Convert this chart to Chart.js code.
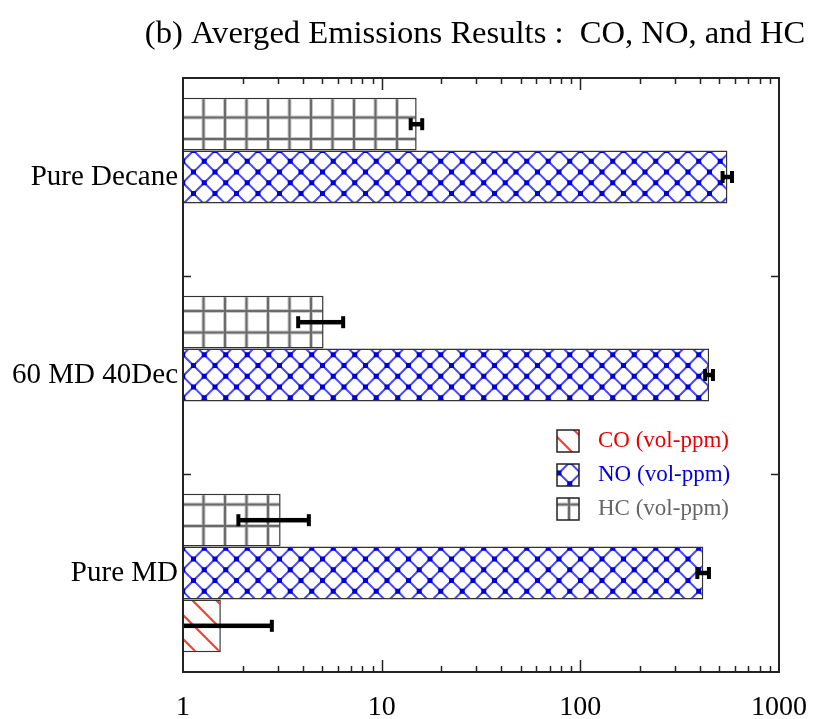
<!DOCTYPE html>
<html>
<head>
<meta charset="utf-8">
<script src="https://cdn.jsdelivr.net/npm/chart.js@4/dist/chart.umd.min.js"></script>
<style>
  html, body { margin: 0; padding: 0; background: #fff; }
  canvas { display: block; }
</style>
</head>
<body>
<canvas id="c" width="821" height="719"></canvas>
<script>
// Averaged emissions per fuel blend (log scale, vol-ppm)
const categories = ['Pure Decane', '60 MD 40Dec', 'Pure MD'];
const hcValues = [15, 5.1, 3.1];
const hcErrors = [1.0, 1.3, 1.2];
const noValues = [550, 445, 416];
const noErrors = [30, 20, 28];
const coValues = [null, null, 1.55];
const coErrors = [null, null, 1.25];
const xTickLabels = [1, 10, 100, 1000];
const seriesNames = ['CO (vol-ppm)', 'NO (vol-ppm)', 'HC (vol-ppm)'];
const titleText = '(b) Averged Emissions Results :  CO, NO, and HC';

const SERIF = "'Liberation Serif', 'Times New Roman', serif";
const canvas = document.getElementById('c');
const ctx = canvas.getContext('2d');

function makeTile(w, h, draw) {
  const t = document.createElement('canvas');
  t.width = w; t.height = h;
  const g = t.getContext('2d');
  g.fillStyle = '#fff';
  g.fillRect(0, 0, w, h);
  draw(g, w, h);
  return ctx.createPattern(t, 'repeat');
}

// gray square grid with soft edges
const hcPattern = makeTile(43, 43, (g) => {
  [0, 21.5].forEach(p => {
    g.fillStyle = '#c8c8c8';
    g.fillRect(p + 8, 0, 4, 43);
    g.fillRect(0, p + 8, 43, 4);
  });
  [0, 21.5].forEach(p => {
    g.fillStyle = '#6a6a6a';
    g.fillRect(p + 9, 0, 2, 43);
    g.fillRect(0, p + 9, 43, 2);
  });
});

// blue diagonal cross-hatch with dots at crossings
const noPattern = makeTile(43, 43, (g) => {
  g.strokeStyle = '#4848ff';
  g.lineWidth = 2;
  g.beginPath();
  for (let k = -4; k <= 4; k++) {
    g.moveTo(0, k * 21.5); g.lineTo(43, 43 + k * 21.5);
    g.moveTo(0, k * 21.5); g.lineTo(43, k * 21.5 - 43);
  }
  g.stroke();
  g.fillStyle = '#0000d0';
  for (let i = -1; i <= 2; i++) {
    for (let j = -1; j <= 2; j++) {
      [[0, 0], [10.75, 10.75]].forEach(([ox, oy]) => {
        g.fillRect(i * 21.5 + ox - 2.5, j * 21.5 + oy - 2.5, 5, 5);
      });
    }
  }
});

// red back-slash stripes
const coPattern = makeTile(24, 24, (g) => {
  g.strokeStyle = '#ff3c3c';
  g.lineWidth = 2.2;
  g.beginPath();
  for (let k = -1; k <= 1; k++) {
    g.moveTo(-2, k * 24 - 2); g.lineTo(26, k * 24 + 26);
  }
  g.stroke();
});

const legendItems = [
  { text: seriesNames[0], color: '#e80000', fill: coPattern },
  { text: seriesNames[1], color: '#0000dd', fill: noPattern },
  { text: seriesNames[2], color: '#666666', fill: hcPattern }
];

const errorBars = {
  id: 'errorBars',
  afterDatasetsDraw(chart) {
    const c = chart.ctx, xs = chart.scales.x, area = chart.chartArea;
    c.save();
    c.fillStyle = '#000';
    chart.data.datasets.forEach((ds, di) => {
      const meta = chart.getDatasetMeta(di);
      meta.data.forEach((bar, i) => {
        const v = ds.data[i], e = ds.errors[i];
        if (v == null || e == null) return;
        const lo = v - e, hi = v + e;
        const y = bar.y;
        const xHi = xs.getPixelForValue(hi);
        const loIn = lo >= xs.min;
        const xLo = loIn ? xs.getPixelForValue(lo) : area.left;
        c.fillRect(xLo, y - 2.25, xHi - xLo, 4.5);
        c.fillRect(xHi - 2, y - 6, 4, 12);
        if (loIn) c.fillRect(xLo - 2, y - 6, 4, 12);
      });
    });
    c.restore();
  }
};

const frameAndLegend = {
  id: 'frameAndLegend',
  afterDraw(chart) {
    const c = chart.ctx, a = chart.chartArea, xs = chart.scales.x, ys = chart.scales.y;
    c.save();
    // frame
    c.strokeStyle = '#222';
    c.lineWidth = 2;
    c.strokeRect(a.left, a.top, a.right - a.left, a.bottom - a.top);
    // log ticks on bottom and top
    c.lineWidth = 1.5;
    c.beginPath();
    for (let k = 0; k < 3; k++) {
      for (let m = 1; m <= 9; m++) {
        const v = m * Math.pow(10, k);
        if (v <= xs.min || v >= xs.max) continue;
        const x = Math.round(xs.getPixelForValue(v)) + 0.5;
        const len = m === 1 ? 12 : 6;
        c.moveTo(x, a.bottom); c.lineTo(x, a.bottom - len);
        c.moveTo(x, a.top); c.lineTo(x, a.top + len);
      }
    }
    // category separators on left and right
    for (let i = 0; i < categories.length - 1; i++) {
      const y = Math.round((ys.getPixelForValue(i) + ys.getPixelForValue(i + 1)) / 2) + 0.5;
      c.moveTo(a.left, y); c.lineTo(a.left + 8, y);
      c.moveTo(a.right, y); c.lineTo(a.right - 8, y);
    }
    c.stroke();

    // title
    c.fillStyle = '#000';
    c.font = '32.6px ' + SERIF;
    c.textAlign = 'center';
    c.textBaseline = 'middle';
    c.fillText(titleText, 475, 34);

    // legend
    c.font = '23px ' + SERIF;
    c.textAlign = 'left';
    legendItems.forEach((it, i) => {
      const by = 430 + i * 34;
      c.fillStyle = it.fill;
      c.fillRect(557, by, 22, 22);
      c.strokeStyle = '#222';
      c.lineWidth = 1.5;
      c.strokeRect(557, by, 22, 22);
      c.fillStyle = it.color;
      c.fillText(it.text, 598, by + 11);
    });
    c.restore();
  }
};

new Chart(ctx, {
  type: 'bar',
  data: {
    labels: categories,
    datasets: [
      { label: seriesNames[2], data: hcValues, errors: hcErrors, backgroundColor: hcPattern, borderColor: '#333', borderWidth: 1.5 },
      { label: seriesNames[1], data: noValues, errors: noErrors, backgroundColor: noPattern, borderColor: '#333', borderWidth: 1.5 },
      { label: seriesNames[0], data: coValues, errors: coErrors, backgroundColor: coPattern, borderColor: '#333', borderWidth: 1.5 }
    ]
  },
  options: {
    indexAxis: 'y',
    responsive: false,
    animation: false,
    categoryPercentage: 0.8,
    barPercentage: 1.0,
    layout: { padding: { top: 78, right: 42, left: 0, bottom: 0 } },
    plugins: { legend: { display: false }, tooltip: { enabled: false }, title: { display: false } },
    scales: {
      x: {
        type: 'logarithmic',
        min: 1,
        max: 1000,
        grid: { display: false, drawTicks: false },
        border: { display: false },
        ticks: {
          autoSkip: false,
          maxRotation: 0,
          padding: 19,
          color: '#000',
          font: { family: SERIF, size: 28 },
          callback: (v) => {
            const hit = xTickLabels.find(t => Math.abs(t - v) < 1e-6 * t);
            return hit !== undefined ? String(hit) : '';
          }
        },
        afterFit(s) { s.height = 47; s.paddingLeft = 0; s.paddingRight = 0; }
      },
      y: {
        grid: { display: false, drawTicks: false },
        border: { display: false },
        ticks: { padding: 5, color: '#000', font: { family: SERIF, size: 29 } },
        afterFit(s) { s.width = 183; s.paddingTop = 0; s.paddingBottom = 0; }
      }
    }
  },
  plugins: [errorBars, frameAndLegend]
});
</script>
</body>
</html>
